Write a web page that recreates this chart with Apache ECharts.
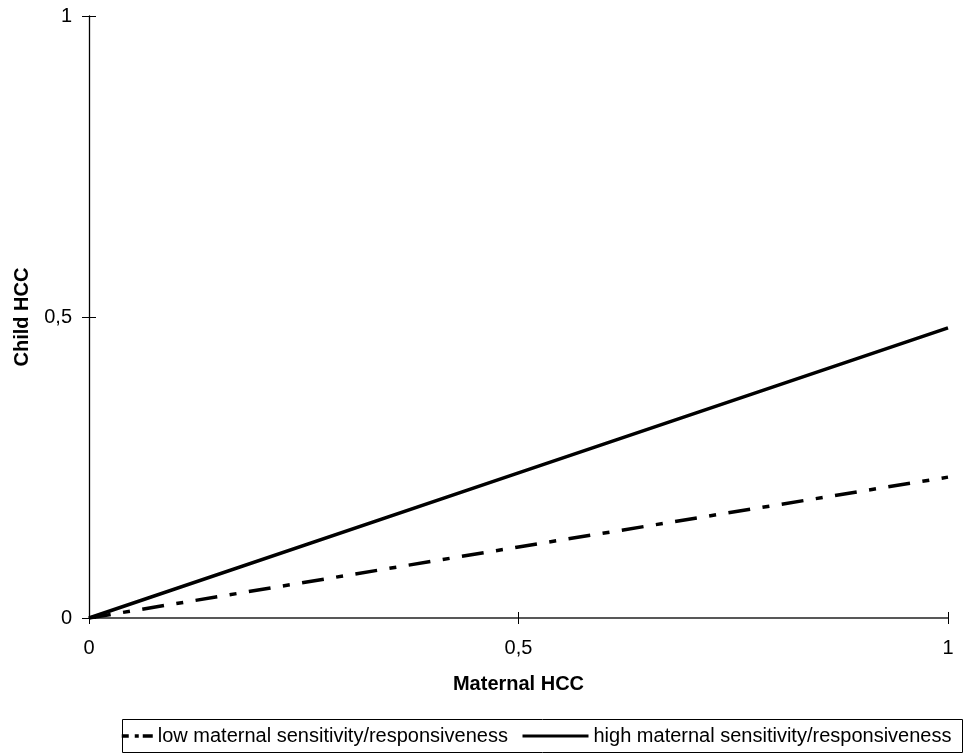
<!DOCTYPE html>
<html>
<head>
  <meta charset="utf-8">
  <title>Child HCC vs Maternal HCC</title>
  <script src="https://cdn.jsdelivr.net/npm/echarts@6/dist/echarts.min.js"></script>
  <style>
    html, body { margin: 0; padding: 0; background: #fff; }
    #chart { width: 969px; height: 755px; }
  </style>
</head>
<body>
  <div id="chart"></div>
  <script>
    // data
    var maternalHcc = [0, 0.5, 1];
    var lowSensitivity = [0, 0.118, 0.234];
    var highSensitivity = [0, 0.241, 0.482];

    var font = 'Liberation Sans, Arial, sans-serif';

    function pairs(ys) {
      return maternalHcc.map(function (x, i) { return [x, ys[i]]; });
    }
    function fmt(v) {
      return String(v).replace('.', ',');
    }

    var chart = echarts.init(document.getElementById('chart'));

    var option = {
      backgroundColor: '#fff',
      animation: false,
      grid: { left: 89, right: 21, top: 16, bottom: 137 },
      xAxis: [
        {
          type: 'value', min: 0, max: 1, interval: 0.5, position: 'bottom',
          name: 'Maternal HCC', nameLocation: 'middle', nameGap: 56,
          nameTextStyle: { fontFamily: font, fontSize: 20, fontWeight: 'bold', color: '#000' },
          axisLine: { lineStyle: { color: '#222', width: 1.5 } },
          axisTick: { show: true, inside: false, length: 6, lineStyle: { color: '#000' } },
          axisLabel: { fontFamily: font, fontSize: 20, color: '#000', margin: 20, formatter: fmt },
          splitLine: { show: false }
        },
        {
          // inside half of the crossing ticks
          type: 'value', min: 0, max: 1, interval: 0.5, position: 'bottom', offset: 0,
          axisLine: { show: false },
          axisTick: { show: true, inside: true, length: 6, lineStyle: { color: '#000' } },
          axisLabel: { show: false },
          splitLine: { show: false }
        }
      ],
      yAxis: [
        {
          type: 'value', min: 0, max: 1, interval: 0.5, position: 'left',
          name: 'Child HCC', nameLocation: 'middle', nameGap: 57,
          nameTextStyle: { fontFamily: font, fontSize: 20, fontWeight: 'bold', color: '#000' },
          axisLine: { show: true, lineStyle: { color: '#000', width: 1.3 } },
          axisTick: { show: true, inside: false, length: 7, lineStyle: { color: '#000' } },
          axisLabel: { fontFamily: font, fontSize: 20, color: '#000', margin: 17, formatter: fmt },
          splitLine: { show: false }
        },
        {
          type: 'value', min: 0, max: 1, interval: 0.5, position: 'left', offset: 0,
          axisLine: { show: false },
          axisTick: { show: true, inside: true, length: 7, lineStyle: { color: '#000' } },
          axisLabel: { show: false },
          splitLine: { show: false }
        }
      ],
      legend: [
        {
          data: ['low maternal sensitivity/responsiveness'],
          left: 120, top: 726, padding: 0,
          itemWidth: 31, itemHeight: 14,
          itemStyle: { opacity: 0 },
          lineStyle: { width: 3.5, type: [7, 6, 4, 4, 12, 100], cap: 'butt' },
          textStyle: { fontFamily: font, fontSize: 20, color: '#000' }
        },
        {
          data: ['high maternal sensitivity/responsiveness'],
          left: 521, top: 726, padding: 0,
          itemWidth: 66, itemHeight: 14,
          itemStyle: { opacity: 0 },
          lineStyle: { width: 3 },
          textStyle: { fontFamily: font, fontSize: 20, color: '#000' }
        }
      ],
      graphic: [
        {
          type: 'rect',
          shape: { x: 122.5, y: 719.5, width: 840, height: 33 },
          style: { fill: 'none', stroke: '#000', lineWidth: 1 }
        }
      ],
      series: [
        {
          name: 'low maternal sensitivity/responsiveness',
          type: 'line',
          data: pairs(lowSensitivity),
          symbol: 'none',
          color: '#000',
          lineStyle: { color: '#000', width: 3.5, type: [22, 12.5, 7, 12.5], cap: 'butt' }
        },
        {
          name: 'high maternal sensitivity/responsiveness',
          type: 'line',
          data: pairs(highSensitivity),
          symbol: 'none',
          color: '#000',
          lineStyle: { color: '#000', width: 3.5 }
        }
      ]
    };

    chart.setOption(option);
  </script>
</body>
</html>
